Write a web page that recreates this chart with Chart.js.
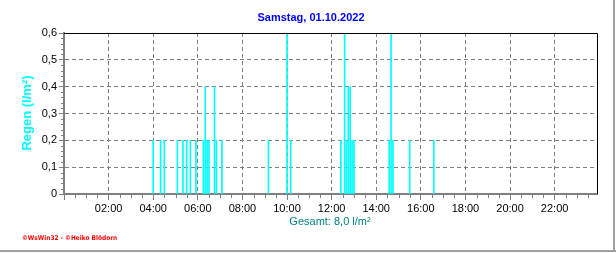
<!DOCTYPE html>
<html>
<head>
<meta charset="utf-8">
<title>Regen</title>
<script src="https://cdn.jsdelivr.net/npm/chart.js"></script>
<style>
	body { margin: 0; background: #fff; }
	canvas { display: block; }
</style>
</head>
<body>
<canvas id="regenChart" width="616" height="253"></canvas>
<script>
// Uhrzeiten der Regenmeldungen (5-Minuten-Werte) und Menge in l/m²
var zeiten = ['04:00','04:20','04:30','05:05','05:20','05:30','05:40','05:55',
	'06:15','06:20','06:25','06:30','06:45','06:50','07:05','09:10','10:00','10:10',
	'12:25','12:35','12:40','12:45','12:50','12:55','13:00','14:35','14:40','14:45',
	'15:30','16:35'];
var regen = [0.2,0.2,0.2,0.2,0.2,0.2,0.2,0.2,
	0.2,0.4,0.2,0.2,0.4,0.2,0.2,0.2,0.6,0.2,
	0.2,0.6,0.2,0.4,0.4,0.2,0.2,0.2,0.6,0.2,
	0.2,0.2];
var stundenLabels = ['02:00','04:00','06:00','08:00','10:00','12:00','14:00','16:00','18:00','20:00','22:00'];
var titel = 'Samstag, 01.10.2022';
var achseY = 'Regen (l/m²)';
var gesamt = 'Gesamt: 8,0 l/m²';
var copyright = '©WsWin32 - ©Heiko Blödorn';

function minuten(s) {
	var p = s.split(':');
	return parseInt(p[0]) * 60 + parseInt(p[1]);
}

var punkte = zeiten.map(function (z, i) { return { x: minuten(z), y: regen[i] }; });
var labelMinuten = stundenLabels.map(minuten);

var grau = '#808080';
var leer = 'rgba(0,0,0,0)';

function istStunde(ctx) {
	if (!ctx.tick) return false;
	var v = Math.round(ctx.tick.value);
	return v % 120 == 0;
}

// Rahmen, Nebenstriche und Texte
var extras = {
	id: 'extras',
	beforeDraw: function (chart) {
		var c = chart.ctx;
		c.save();
		c.fillStyle = '#fff';
		c.fillRect(0, 0, chart.width, chart.height);
		c.restore();
	},
	afterDraw: function (chart) {
		var c = chart.ctx, a = chart.chartArea;
		var sx = chart.scales.x, sy = chart.scales.y;
		c.save();
		// kleine Striche
		c.strokeStyle = grau;
		c.lineWidth = 1;
		c.beginPath();
		for (var m = 30; m < sx.max; m += 30) {
			if (m % 120 == 0) continue;
			var px = Math.round(sx.getPixelForValue(m)) + 0.5;
			c.moveTo(px, a.bottom + 1);
			c.lineTo(px, a.bottom + 4);
		}
		for (var v = 0.02; v < 0.6; v += 0.02) {
			if (Math.round(v * 100) % 10 == 0) continue;
			var py = Math.round(sy.getPixelForValue(v)) + 0.5;
			c.moveTo(a.left - 3, py);
			c.lineTo(a.left, py);
		}
		c.stroke();
		// oben und rechts schwarz
		c.strokeStyle = '#000';
		c.beginPath();
		c.moveTo(a.left, Math.round(a.top) + 0.5);
		c.lineTo(Math.round(a.right) + 0.5, Math.round(a.top) + 0.5);
		c.lineTo(Math.round(a.right) + 0.5, a.bottom);
		c.stroke();
		// äußerer Rahmen
		c.fillStyle = '#a0a0a0';
		c.fillRect(0, 250, 616, 2);
		c.fillRect(613, 0, 2, 252);
		// Texte
		c.textAlign = 'center';
		c.textBaseline = 'middle';
		c.fillStyle = '#0000ff';
		c.font = 'bold 11px "Liberation Sans", Arial, sans-serif';
		c.fillText(titel, 311, 18);
		c.fillStyle = '#008080';
		c.font = '11px "Liberation Sans", Arial, sans-serif';
		c.fillText(gesamt, 330, 222);
		c.save();
		c.translate(27, 113);
		c.rotate(-Math.PI / 2);
		c.fillStyle = '#00ffff';
		c.font = 'bold 13px "Liberation Sans", Arial, sans-serif';
		c.fillText(achseY, 0, 0);
		c.restore();
		c.textAlign = 'left';
		c.fillStyle = '#ff0000';
		c.font = 'bold 6.5px "DejaVu Sans Condensed", "DejaVu Sans", sans-serif';
		c.fillText(copyright, 22, 238);
		c.restore();
	}
};

new Chart(document.getElementById('regenChart'), {
	type: 'bar',
	data: {
		datasets: [{
			data: punkte,
			backgroundColor: '#00ffff',
			borderWidth: 0,
			barThickness: 1
		}]
	},
	options: {
		responsive: false,
		animation: false,
		devicePixelRatio: 1,
		layout: { padding: { top: 33, right: 19, left: 0, bottom: 0 } },
		plugins: { legend: { display: false }, tooltip: { enabled: false } },
		scales: {
			x: {
				type: 'linear',
				offset: false,
				min: 0,
				max: 1434,
				afterFit: function (s) { s.height = 59; },
				afterBuildTicks: function (s) {
					s.ticks = [{ value: 0 }].concat(labelMinuten.map(function (m) { return { value: m }; }));
				},
				ticks: {
					autoSkip: false,
					maxRotation: 0,
					minRotation: 0,
					padding: 2,
					color: '#000',
					font: { family: '"Liberation Sans", Arial, sans-serif', size: 11 },
					callback: function (v) {
						var i = labelMinuten.indexOf(Math.round(v));
						return i < 0 ? '' : stundenLabels[i];
					}
				},
				grid: {
					offset: false,
					lineWidth: 1,
					tickLength: 6,
					color: function (ctx) {
						return (istStunde(ctx) && ctx.tick.value > 0) ? grau : leer;
					},
					tickColor: grau
				},
				border: { color: grau, width: 2, dash: [4, 3] }
			},
			y: {
				min: 0,
				max: 0.6,
				afterFit: function (s) { s.width = 64; },
				ticks: {
					stepSize: 0.1,
					padding: 2,
					color: '#000',
					font: { family: '"Liberation Sans", Arial, sans-serif', size: 11 },
					callback: function (v) {
						if (v == 0) return '0';
						return v.toFixed(1).replace('.', ',');
					}
				},
				grid: {
					lineWidth: 1,
					tickLength: 5,
					color: function (ctx) {
						var v = ctx.tick ? ctx.tick.value : 0;
						return (v > 0.01 && v < 0.59) ? grau : leer;
					},
					tickColor: grau
				},
				border: { color: grau, width: 2, dash: [4, 3] }
			}
		}
	},
	plugins: [extras]
});
</script>
</body>
</html>
